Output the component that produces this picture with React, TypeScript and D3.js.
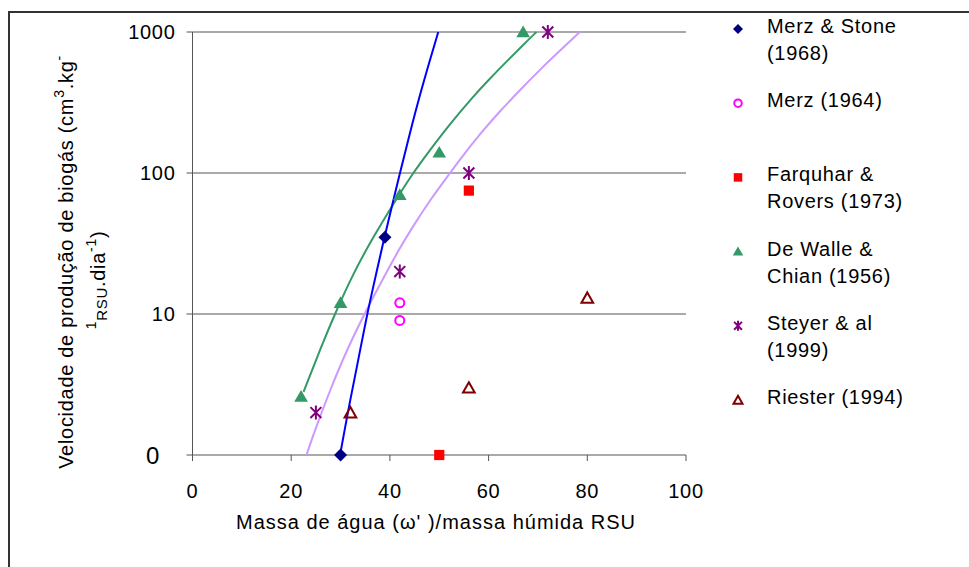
import React from 'react';
import * as d3 from 'd3';

// ---------- data ----------
const xTicks = [0, 20, 40, 60, 80, 100];
const yTicks = [1, 10, 100, 1000];
const yTickLabels = ['0', '10', '100', '1000'];

const merzStone = [{ x: 30, y: 1 }, { x: 39, y: 35 }];
const merz1964 = [{ x: 42, y: 12 }, { x: 42, y: 9 }];
const farquhar = [{ x: 56, y: 75 }, { x: 50, y: 1 }];
const deWalle = [{ x: 22, y: 2.6 }, { x: 30, y: 12 }, { x: 42, y: 70 }, { x: 50, y: 140 }, { x: 67, y: 1000 }];
const steyer = [{ x: 25, y: 2 }, { x: 42, y: 20 }, { x: 56, y: 100 }, { x: 72, y: 1000 }];
const riester = [{ x: 32, y: 2 }, { x: 56, y: 3 }, { x: 80, y: 13 }];

// fitted curves
const blueCurve = [
  { x: 29.9, y: 1.0 }, { x: 30.9, y: 1.55 }, { x: 31.8, y: 2.3 }, { x: 33.3, y: 4.2 },
  { x: 35.3, y: 9.6 }, { x: 36.6, y: 15.5 }, { x: 38.3, y: 28.4 }, { x: 39.7, y: 46 },
  { x: 42.0, y: 99 }, { x: 44.1, y: 195 }, { x: 46.1, y: 360 }, { x: 48.1, y: 630 }, { x: 49.8, y: 1000 },
];
const greenCurve = [
  { x: 22.5, y: 2.8 }, { x: 26.2, y: 6.0 }, { x: 28.9, y: 10.1 }, { x: 32.6, y: 19.5 },
  { x: 36.6, y: 35 }, { x: 40.4, y: 58 }, { x: 44.4, y: 97 }, { x: 48.1, y: 145 },
  { x: 52.0, y: 219 }, { x: 56.9, y: 350 }, { x: 60.3, y: 469 },
  { x: 63.7, y: 620 }, { x: 67.0, y: 810 }, { x: 69.7, y: 1000 },
];
const purpleCurve = [
  { x: 23.1, y: 1.0 }, { x: 24.8, y: 1.5 }, { x: 27.9, y: 2.9 }, { x: 31.2, y: 5.5 },
  { x: 35.0, y: 10.3 }, { x: 38.3, y: 17 }, { x: 41.7, y: 28.2 }, { x: 44.7, y: 42 },
  { x: 48.1, y: 64 }, { x: 52.0, y: 98 }, { x: 54.2, y: 125 }, { x: 58.3, y: 190 },
  { x: 62.3, y: 275 }, { x: 67.0, y: 409 }, { x: 70.4, y: 540 }, { x: 74.5, y: 740 }, { x: 78.5, y: 1000 },
];

const legendLabels = [
  ['Merz & Stone', '(1968)'],
  ['Merz (1964)'],
  ['Farquhar &', 'Rovers (1973)'],
  ['De Walle &', 'Chian (1956)'],
  ['Steyer & al', '(1999)'],
  ['Riester (1994)'],
];
const legendMarkers = ['diamond', 'circle', 'square', 'triangle', 'asterisk', 'opentri'];

const xTitle = "Massa de água (ω' )/massa húmida RSU";

// ---------- layout ----------
const W = 969;
const H = 567;
const FONT = "'Liberation Sans', Arial, sans-serif";
const LS = 0.7;

const x = d3.scaleLinear().domain([0, 100]).range([192.5, 686]);
const y = d3.scaleLog().domain([1, 1000]).range([455, 32]);

const line = d3
  .line<{ x: number; y: number }>()
  .x((d) => x(d.x))
  .y((d) => y(d.y))
  .curve(d3.curveBasis);

function Marker({ type, cx, cy, s }: { type: string; cx: number; cy: number; s: number }) {
  const h = s / 2;
  switch (type) {
    case 'diamond':
      return <path d={`M${cx},${cy - h}L${cx + h},${cy}L${cx},${cy + h}L${cx - h},${cy}Z`} fill="#000080" />;
    case 'circle':
      return <circle cx={cx} cy={cy} r={h * 0.75} fill="none" stroke="#FF00FF" strokeWidth={2} />;
    case 'square':
      return <rect x={cx - h * 0.85} y={cy - h * 0.85} width={h * 1.7} height={h * 1.7} fill="#FF0000" />;
    case 'triangle':
      return <path d={`M${cx},${cy - h}L${cx + h * 1.05},${cy + h * 0.8}L${cx - h * 1.05},${cy + h * 0.8}Z`} fill="#339966" />;
    case 'opentri':
      return (
        <path
          d={`M${cx},${cy - h * 0.85}L${cx + h * 0.9},${cy + h * 0.75}L${cx - h * 0.9},${cy + h * 0.75}Z`}
          fill="none"
          stroke="#800000"
          strokeWidth={2}
        />
      );
    case 'asterisk': {
      const a = h * 0.78;
      return (
        <path
          d={`M${cx - a},${cy - a}L${cx + a},${cy + a}M${cx - a},${cy + a}L${cx + a},${cy - a}M${cx},${cy - h}L${cx},${cy + h}`}
          stroke="#800080"
          strokeWidth={2}
          fill="none"
        />
      );
    }
    default:
      return null;
  }
}

const seriesList = [
  { data: merzStone, type: 'diamond', size: 13 },
  { data: merz1964, type: 'circle', size: 12 },
  { data: farquhar, type: 'square', size: 12 },
  { data: deWalle, type: 'triangle', size: 13 },
  { data: steyer, type: 'asterisk', size: 14 },
  { data: riester, type: 'opentri', size: 13 },
];

export default function App() {
  const [x0, x1] = x.range();
  return (
    <svg
      width={W}
      height={H}
      style={{ position: 'absolute', left: 0, top: 0, display: 'block', background: '#fff' }}
      fontFamily={FONT}
      letterSpacing={LS}
    >
      <rect x={0} y={0} width={W} height={H} fill="#fff" />
      {/* outer frame */}
      <rect x={9} y={12} width={1100} height={700} fill="none" stroke="#333" strokeWidth={2} />

      {/* gridlines */}
      {yTicks.slice(1).map((t) => (
        <line key={'g' + t} x1={x0} x2={x1} y1={y(t)} y2={y(t)} stroke="#555" strokeWidth={1} />
      ))}

      {/* axes */}
      <line x1={x0} x2={x0} y1={y(1000)} y2={y(1)} stroke="#555" strokeWidth={1} />
      <line x1={x0} x2={x1} y1={y(1)} y2={y(1)} stroke="#555" strokeWidth={1} />
      {yTicks.map((t, i) => (
        <g key={'yt' + t}>
          <line x1={x0 - 6} x2={x0} y1={y(t)} y2={y(t)} stroke="#555" />
          <text
            x={i === 0 ? 160 : x0 - 17}
            y={y(t)}
            textAnchor="end"
            dominantBaseline="central"
            fontSize={i === 0 ? 24 : 20}
            fill="#000"
          >
            {yTickLabels[i]}
          </text>
        </g>
      ))}
      {xTicks.map((t) => (
        <g key={'xt' + t}>
          <line x1={x(t)} x2={x(t)} y1={y(1)} y2={y(1) + 6} stroke="#555" />
          <text x={x(t)} y={491} textAnchor="middle" dominantBaseline="central" fontSize={20} fill="#000">
            {t}
          </text>
        </g>
      ))}

      {/* axis titles */}
      <text x={436} y={522} textAnchor="middle" dominantBaseline="central" fontSize={20} fill="#000" letterSpacing={1}>
        {xTitle}
      </text>
      <text transform="translate(66,262) rotate(-90)" textAnchor="middle" dominantBaseline="central" fontSize={20} fill="#000">
        Velocidade de produção de biogás (cm
        <tspan fontSize={14} baselineShift="7">3</tspan>
        .kg
        <tspan fontSize={14} baselineShift="7">-</tspan>
      </text>
      <text transform="translate(98,280) rotate(-90)" textAnchor="middle" dominantBaseline="central" fontSize={20} fill="#000">
        <tspan fontSize={14} baselineShift="7">1</tspan>
        <tspan fontSize={15} baselineShift="-3">RSU</tspan>
        .dia
        <tspan fontSize={14} baselineShift="7">-1</tspan>
        )
      </text>

      {/* curves */}
      <path d={line(purpleCurve) || ''} fill="none" stroke="#CC99FF" strokeWidth={2} />
      <path d={line(greenCurve) || ''} fill="none" stroke="#339966" strokeWidth={2} />
      <path d={line(blueCurve) || ''} fill="none" stroke="#0000FF" strokeWidth={2} />

      {/* points */}
      {seriesList.map((s, si) =>
        s.data.map((d, di) => (
          <Marker key={`p${si}-${di}`} type={s.type} cx={x(d.x)} cy={y(d.y)} s={s.size} />
        ))
      )}

      {/* legend */}
      {legendLabels.map((lines, i) => {
        const ly = 26 + i * 74.2;
        return (
          <g key={'lg' + i}>
            <Marker type={legendMarkers[i]} cx={738} cy={ly + 3} s={10} />
            {lines.map((l, j) => (
              <text key={j} x={767} y={ly + j * 27} dominantBaseline="central" fontSize={20} fill="#000">
                {l}
              </text>
            ))}
          </g>
        );
      })}
    </svg>
  );
}
